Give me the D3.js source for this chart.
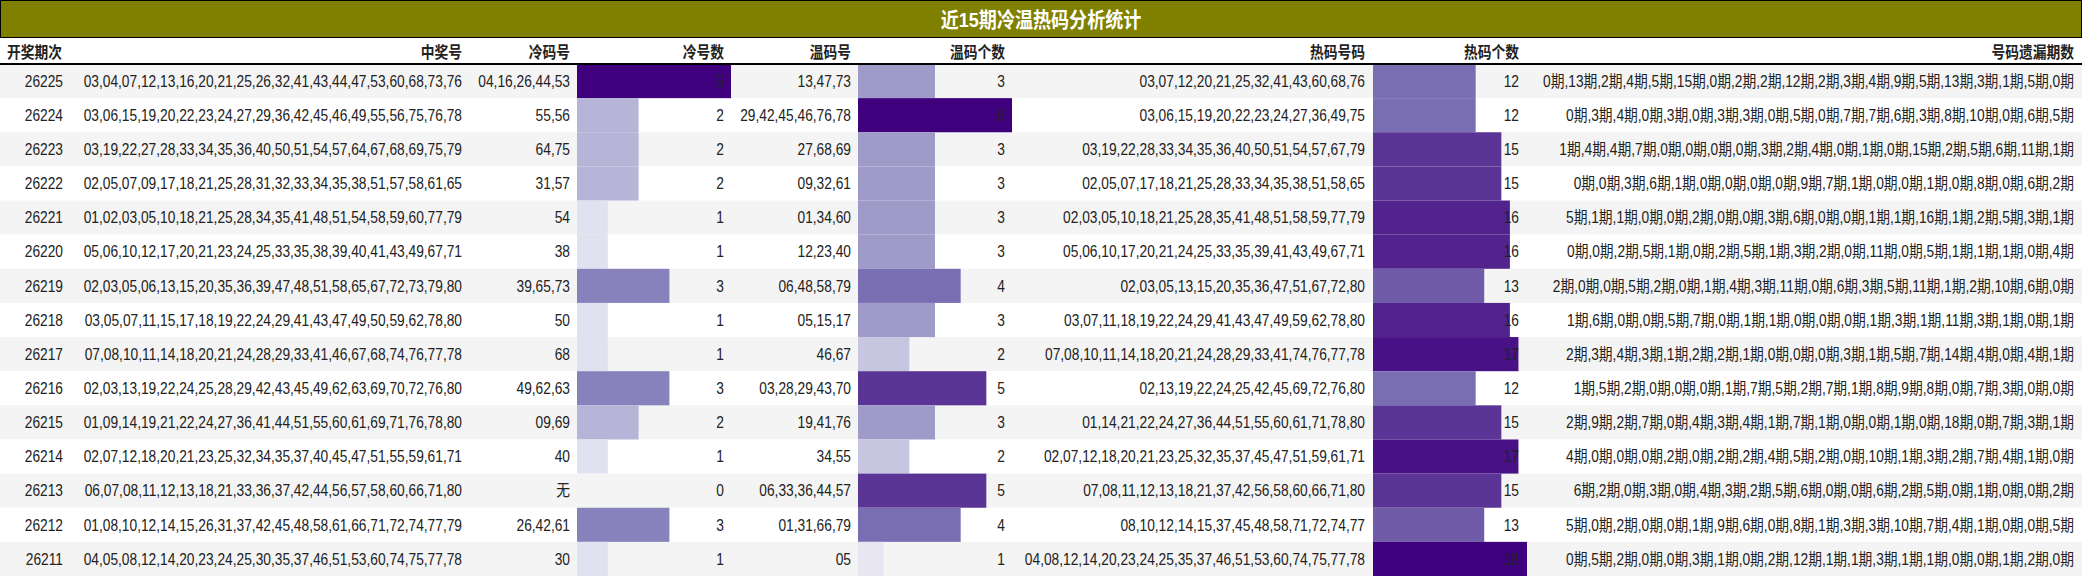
<!DOCTYPE html>
<html>
<head>
<meta charset="utf-8">
<script src="https://cdn.jsdelivr.net/npm/d3@7/dist/d3.min.js"></script>
<style>
  body { margin: 0; background: #fff; }
  text { font-family: "Liberation Sans", "Noto Sans CJK SC", sans-serif; font-size: 16px; fill: #222; }
  .hdr { font-weight: bold; }
</style>
</head>
<body>
<svg id="chart"></svg>
<script>
// table data, newest draw first
var periods = [26225, 26224, 26223, 26222, 26221, 26220, 26219, 26218, 26217, 26216, 26215, 26214, 26213, 26212, 26211];
var winning = [
  "03,04,07,12,13,16,20,21,25,26,32,41,43,44,47,53,60,68,73,76",
  "03,06,15,19,20,22,23,24,27,29,36,42,45,46,49,55,56,75,76,78",
  "03,19,22,27,28,33,34,35,36,40,50,51,54,57,64,67,68,69,75,79",
  "02,05,07,09,17,18,21,25,28,31,32,33,34,35,38,51,57,58,61,65",
  "01,02,03,05,10,18,21,25,28,34,35,41,48,51,54,58,59,60,77,79",
  "05,06,10,12,17,20,21,23,24,25,33,35,38,39,40,41,43,49,67,71",
  "02,03,05,06,13,15,20,35,36,39,47,48,51,58,65,67,72,73,79,80",
  "03,05,07,11,15,17,18,19,22,24,29,41,43,47,49,50,59,62,78,80",
  "07,08,10,11,14,18,20,21,24,28,29,33,41,46,67,68,74,76,77,78",
  "02,03,13,19,22,24,25,28,29,42,43,45,49,62,63,69,70,72,76,80",
  "01,09,14,19,21,22,24,27,36,41,44,51,55,60,61,69,71,76,78,80",
  "02,07,12,18,20,21,23,25,32,34,35,37,40,45,47,51,55,59,61,71",
  "06,07,08,11,12,13,18,21,33,36,37,42,44,56,57,58,60,66,71,80",
  "01,08,10,12,14,15,26,31,37,42,45,48,58,61,66,71,72,74,77,79",
  "04,05,08,12,14,20,23,24,25,30,35,37,46,51,53,60,74,75,77,78"
];
var coldNums = ["04,16,26,44,53", "55,56", "64,75", "31,57", "54", "38", "39,65,73", "50", "68", "49,62,63", "09,69", "40", "无", "26,42,61", "30"];
var coldCount = [5, 2, 2, 2, 1, 1, 3, 1, 1, 3, 2, 1, 0, 3, 1];
var warmNums = ["13,47,73", "29,42,45,46,76,78", "27,68,69", "09,32,61", "01,34,60", "12,23,40", "06,48,58,79", "05,15,17", "46,67", "03,28,29,43,70", "19,41,76", "34,55", "06,33,36,44,57", "01,31,66,79", "05"];
var warmCount = [3, 6, 3, 3, 3, 3, 4, 3, 2, 5, 3, 2, 5, 4, 1];
var hotNums = [
  "03,07,12,20,21,25,32,41,43,60,68,76",
  "03,06,15,19,20,22,23,24,27,36,49,75",
  "03,19,22,28,33,34,35,36,40,50,51,54,57,67,79",
  "02,05,07,17,18,21,25,28,33,34,35,38,51,58,65",
  "02,03,05,10,18,21,25,28,35,41,48,51,58,59,77,79",
  "05,06,10,17,20,21,24,25,33,35,39,41,43,49,67,71",
  "02,03,05,13,15,20,35,36,47,51,67,72,80",
  "03,07,11,18,19,22,24,29,41,43,47,49,59,62,78,80",
  "07,08,10,11,14,18,20,21,24,28,29,33,41,74,76,77,78",
  "02,13,19,22,24,25,42,45,69,72,76,80",
  "01,14,21,22,24,27,36,44,51,55,60,61,71,78,80",
  "02,07,12,18,20,21,23,25,32,35,37,45,47,51,59,61,71",
  "07,08,11,12,13,18,21,37,42,56,58,60,66,71,80",
  "08,10,12,14,15,37,45,48,58,71,72,74,77",
  "04,08,12,14,20,23,24,25,35,37,46,51,53,60,74,75,77,78"
];
var hotCount = [12, 12, 15, 15, 16, 16, 13, 16, 17, 12, 15, 17, 15, 13, 18];
var missing = [
  [0,13,2,4,5,15,0,2,2,12,2,3,4,9,5,13,3,1,5,0],
  [0,3,4,0,3,0,3,3,0,5,0,7,7,6,3,8,10,0,6,5],
  [1,4,4,7,0,0,0,0,3,2,4,0,1,0,15,2,5,6,11,1],
  [0,0,3,6,1,0,0,0,0,9,7,1,0,0,1,0,8,0,6,2],
  [5,1,1,0,0,2,0,0,3,6,0,0,1,1,16,1,2,5,3,1],
  [0,0,2,5,1,0,2,5,1,3,2,0,11,0,5,1,1,1,0,4],
  [2,0,0,5,2,0,1,4,3,11,0,6,3,5,11,1,2,10,6,0],
  [1,6,0,0,5,7,0,1,1,0,0,0,1,3,1,11,3,1,0,1],
  [2,3,4,3,1,2,2,1,0,0,0,3,1,5,7,14,4,0,4,1],
  [1,5,2,0,0,0,1,7,5,2,7,1,8,9,8,0,7,3,0,0],
  [2,9,2,7,0,4,3,4,1,7,1,0,0,1,0,18,0,7,3,1],
  [4,0,0,0,2,0,2,2,4,5,2,0,10,1,3,2,7,4,1,0],
  [6,2,0,3,0,4,3,2,5,6,0,0,6,2,5,0,1,0,0,2],
  [5,0,2,0,0,1,9,6,0,8,1,3,3,10,7,4,1,0,0,5],
  [0,5,2,0,0,3,1,0,2,12,1,1,3,1,1,0,0,1,2,0]
];
var headers = ["开奖期次", "中奖号", "冷码号", "冷号数", "温码号", "温码个数", "热码号码", "热码个数", "号码遗漏期数"];

var width = 2082, height = 576;
var titleH = 38, headH = 26, top0 = titleH + headH;
var squeeze = 0.86; // narrow look of the original font
var svg = d3.select('#chart').attr('width', width).attr('height', height);

// place a text at (x, y), condensed horizontally
function place(x, yy) { return 'translate(' + x + ',' + yy + ') scale(' + squeeze + ',1)'; }

// title bar
svg.append('rect').attr('x', 0.5).attr('y', 0.5).attr('width', width - 1).attr('height', titleH - 1)
  .attr('fill', '#808000').attr('stroke', '#000');
svg.append('text').attr('transform', place(width / 2, titleH / 2)).attr('dy', '0.36em')
  .attr('text-anchor', 'middle').attr('class', 'hdr')
  .style('fill', '#fff').style('font-size', '21px').text('近15期冷温热码分析统计');

var y = d3.scaleBand().domain(d3.range(periods.length)).range([top0, height]);

// row stripes
svg.selectAll('.stripe').data(periods).join('rect')
  .attr('x', 0).attr('y', function(d, i) { return y(i); })
  .attr('width', width).attr('height', y.bandwidth())
  .attr('fill', function(d, i) { return i % 2 ? '#fff' : '#f4f4f4'; });

// bar columns
var barMax = 154;
function barCol(x0, counts) {
  var max = d3.max(counts);
  var w = d3.scaleLinear().domain([0, max]).range([0, barMax]);
  var c = d3.scaleSequential(d3.interpolatePurples).domain([0, max]);
  svg.append('g').selectAll('rect').data(counts).join('rect')
    .attr('x', x0).attr('y', function(d, i) { return y(i); })
    .attr('width', function(d) { return w(d); }).attr('height', y.bandwidth())
    .attr('fill', function(d) { return c(d); });
}
barCol(577, coldCount);
barCol(858, warmCount);
barCol(1373, hotCount);

// text columns: [right edge x, values]
var cols = [
  [63, periods],
  [462, winning],
  [570, coldNums],
  [724, coldCount],
  [851, warmNums],
  [1005, warmCount],
  [1365, hotNums],
  [1519, hotCount],
  [2074, missing.map(function(r) { return r.join('期,') + '期'; })]
];
cols.forEach(function(col) {
  svg.append('g').selectAll('text').data(col[1]).join('text')
    .attr('transform', function(d, i) { return place(col[0], y(i) + y.bandwidth() / 2); })
    .attr('dy', '0.36em').attr('text-anchor', 'end').text(function(d) { return d; });
});

// header
svg.append('g').selectAll('text').data(headers).join('text')
  .attr('class', 'hdr')
  .attr('transform', function(d, i) { return place(i === 0 ? 7 : cols[i][0], titleH + headH / 2 + 1); })
  .attr('dy', '0.36em')
  .attr('text-anchor', function(d, i) { return i === 0 ? 'start' : 'end'; })
  .text(function(d) { return d; });
svg.append('line').attr('x1', 0).attr('x2', width).attr('y1', top0).attr('y2', top0)
  .attr('stroke', '#000').attr('stroke-width', 2);
</script>
</body>
</html>
